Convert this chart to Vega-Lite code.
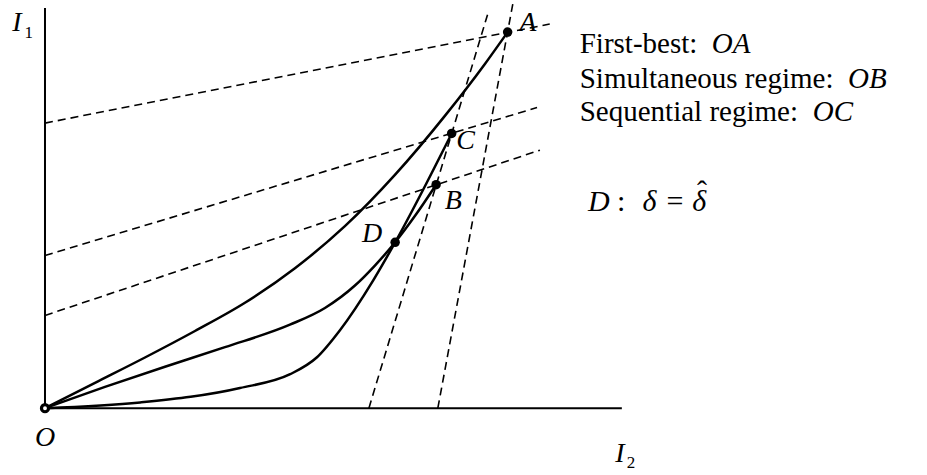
{
  "$schema": "https://vega.github.io/schema/vega-lite/v6.json",
  "width": 927,
  "height": 475,
  "autosize": {"type": "fit", "contains": "padding"},
  "padding": 0,
  "background": "white",
  "config": {"view": {"stroke": null}, "font": "Liberation Serif"},
  "datasets": {
    "axes": [
      {"seg": "I1", "x": 0, "y": 0},
      {"seg": "I1", "x": 0, "y": 69.5},
      {"seg": "I2", "x": 0, "y": 0},
      {"seg": "I2", "x": 100, "y": 0}
    ],
    "guides": [
      {"guide": "iso_A", "x": 0, "y": 49.5},
      {"guide": "iso_A", "x": 87.5, "y": 66.7},
      {"guide": "iso_C", "x": 0, "y": 26.5},
      {"guide": "iso_C", "x": 85.3, "y": 52.2},
      {"guide": "iso_B", "x": 0, "y": 16.1},
      {"guide": "iso_B", "x": 85.8, "y": 44.8},
      {"guide": "steep_BC", "x": 56.15, "y": 0},
      {"guide": "steep_BC", "x": 76.8, "y": 68.6},
      {"guide": "steep_A", "x": 68.1, "y": 0},
      {"guide": "steep_A", "x": 81.1, "y": 70.2}
    ],
    "paths": [
      {"path": "OA", "x": 0, "y": 0},
      {"path": "OA", "x": 8.67, "y": 4.4},
      {"path": "OA", "x": 17.33, "y": 8.8},
      {"path": "OA", "x": 26.0, "y": 13.4},
      {"path": "OA", "x": 34.66, "y": 18.3},
      {"path": "OA", "x": 43.33, "y": 24.3},
      {"path": "OA", "x": 51.99, "y": 31.6},
      {"path": "OA", "x": 60.66, "y": 40.5},
      {"path": "OA", "x": 69.32, "y": 50.75},
      {"path": "OA", "x": 76.26, "y": 59.77},
      {"path": "OA", "x": 80.2, "y": 65.3},
      {"path": "OB", "x": 0, "y": 0},
      {"path": "OB", "x": 10.4, "y": 3.7},
      {"path": "OB", "x": 20.8, "y": 7.2},
      {"path": "OB", "x": 31.2, "y": 10.6},
      {"path": "OB", "x": 42.46, "y": 14.5},
      {"path": "OB", "x": 48.53, "y": 17.4},
      {"path": "OB", "x": 53.73, "y": 21.3},
      {"path": "OB", "x": 57.19, "y": 24.77},
      {"path": "OB", "x": 60.7, "y": 28.8},
      {"path": "OB", "x": 64.12, "y": 33.36},
      {"path": "OB", "x": 67.8, "y": 38.8},
      {"path": "OC", "x": 0, "y": 0},
      {"path": "OC", "x": 16.5, "y": 1.0},
      {"path": "OC", "x": 33.8, "y": 3.5},
      {"path": "OC", "x": 42.5, "y": 5.9},
      {"path": "OC", "x": 47.1, "y": 8.8},
      {"path": "OC", "x": 51.1, "y": 13.5},
      {"path": "OC", "x": 56.9, "y": 22.2},
      {"path": "OC", "x": 60.7, "y": 28.8},
      {"path": "OC", "x": 70.5, "y": 47.7}
    ],
    "points": [
      {"name": "A", "x": 80.2, "y": 65.3},
      {"name": "C", "x": 70.5, "y": 47.7},
      {"name": "B", "x": 67.8, "y": 38.8},
      {"name": "D", "x": 60.7, "y": 28.8}
    ],
    "origin": [{"name": "O", "x": 0, "y": 0}],
    "pointLabels": [
      {"label": "A", "x": 83.7, "y": 66.9},
      {"label": "C", "x": 72.9, "y": 46.4},
      {"label": "B", "x": 70.8, "y": 36.0},
      {"label": "D", "x": 56.7, "y": 30.2},
      {"label": "O", "x": 0, "y": -5.2}
    ],
    "axisNames": [
      {"label": "I", "x": -4.85, "y": 66.9},
      {"label": "I", "x": 99.65, "y": -7.97}
    ],
    "axisSubs": [
      {"label": "1", "x": -2.8, "y": 65.1},
      {"label": "2", "x": 101.6, "y": -9.6}
    ],
    "legendText": [
      {"label": "First-best:", "x": 92.7, "y": 61.7},
      {"label": "Simultaneous regime:", "x": 92.7, "y": 55.6},
      {"label": "Sequential regime:", "x": 92.7, "y": 49.8}
    ],
    "legendPaths": [
      {"label": "OA", "x": 115.6, "y": 61.7},
      {"label": "OB", "x": 139.2, "y": 55.6},
      {"label": "OC", "x": 133.1, "y": 49.8}
    ],
    "eqItalic": [
      {"label": "D", "x": 96.0, "y": 34.3},
      {"label": "δ", "x": 104.8, "y": 34.3},
      {"label": "δ", "x": 113.4, "y": 34.3}
    ],
    "eqRoman": [
      {"label": ":", "x": 99.9, "y": 34.3},
      {"label": "=", "x": 109.2, "y": 34.3}
    ],
    "eqHat": [
      {"label": "ˆ", "x": 113.9, "y": 35.9}
    ]
  },
  "encoding": {
    "x": {"field": "x", "type": "quantitative", "scale": {"domain": [-7.8, 152.9], "nice": false, "zero": false}, "axis": null},
    "y": {"field": "y", "type": "quantitative", "scale": {"domain": [-11.6, 70.7], "nice": false, "zero": false}, "axis": null}
  },
  "layer": [
    {
      "data": {"name": "axes"},
      "mark": {"type": "line", "color": "black", "strokeWidth": 2},
      "encoding": {"detail": {"field": "seg"}}
    },
    {
      "data": {"name": "guides"},
      "mark": {"type": "line", "color": "black", "strokeWidth": 1.6, "strokeDash": [8, 5]},
      "encoding": {"detail": {"field": "guide"}}
    },
    {
      "data": {"name": "paths"},
      "mark": {"type": "line", "color": "black", "strokeWidth": 2.5, "interpolate": "monotone"},
      "encoding": {"detail": {"field": "path"}}
    },
    {
      "data": {"name": "points"},
      "mark": {"type": "point", "filled": true, "color": "black", "size": 90, "opacity": 1}
    },
    {
      "data": {"name": "origin"},
      "mark": {"type": "point", "filled": false, "fill": "white", "stroke": "black", "strokeWidth": 3.2, "size": 50, "opacity": 1}
    },
    {
      "data": {"name": "pointLabels"},
      "mark": {"type": "text", "font": "Liberation Serif", "fontStyle": "italic", "fontSize": 28, "align": "center", "baseline": "middle", "color": "black"},
      "encoding": {"text": {"field": "label"}}
    },
    {
      "data": {"name": "axisNames"},
      "mark": {"type": "text", "font": "Liberation Serif", "fontStyle": "italic", "fontSize": 28, "align": "center", "baseline": "middle", "color": "black"},
      "encoding": {"text": {"field": "label"}}
    },
    {
      "data": {"name": "axisSubs"},
      "mark": {"type": "text", "font": "Liberation Serif", "fontSize": 17, "align": "center", "baseline": "middle", "color": "black"},
      "encoding": {"text": {"field": "label"}}
    },
    {
      "data": {"name": "legendText"},
      "mark": {"type": "text", "font": "Liberation Serif", "fontSize": 29, "align": "left", "baseline": "alphabetic", "color": "black"},
      "encoding": {"text": {"field": "label"}}
    },
    {
      "data": {"name": "legendPaths"},
      "mark": {"type": "text", "font": "Liberation Serif", "fontStyle": "italic", "fontSize": 29, "align": "left", "baseline": "alphabetic", "color": "black"},
      "encoding": {"text": {"field": "label"}}
    },
    {
      "data": {"name": "eqItalic"},
      "mark": {"type": "text", "font": "Liberation Serif", "fontStyle": "italic", "fontSize": 30, "align": "center", "baseline": "alphabetic", "color": "black"},
      "encoding": {"text": {"field": "label"}}
    },
    {
      "data": {"name": "eqRoman"},
      "mark": {"type": "text", "font": "Liberation Serif", "fontSize": 30, "align": "center", "baseline": "alphabetic", "color": "black"},
      "encoding": {"text": {"field": "label"}}
    },
    {
      "data": {"name": "eqHat"},
      "mark": {"type": "text", "font": "Liberation Serif", "fontSize": 30, "align": "center", "baseline": "alphabetic", "color": "black"},
      "encoding": {"text": {"field": "label"}}
    }
  ]
}
